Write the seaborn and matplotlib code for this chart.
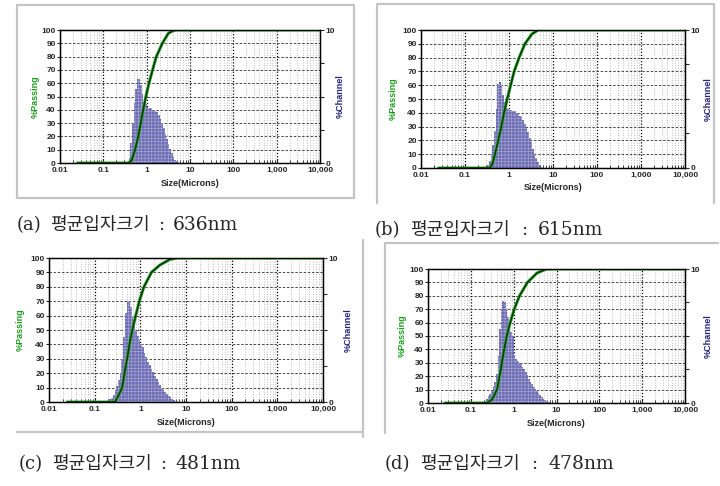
import numpy as np
import matplotlib
matplotlib.use("Agg")
import matplotlib.pyplot as plt
import seaborn as sns
from matplotlib.lines import Line2D
from matplotlib.ticker import FixedLocator, LogLocator, NullFormatter

sns.set_style("white")
plt.rcParams["font.family"] = ["Liberation Sans", "DejaVu Sans"]
plt.rcParams["hatch.linewidth"] = 0.2

# channel edges (microns), shared by all four measurements
edges = [0.1768, 0.1928, 0.2102, 0.2293, 0.25, 0.2726, 0.2973, 0.3242, 0.3536,
         0.3856, 0.4204, 0.4585, 0.5, 0.5453, 0.5946, 0.6484, 0.7071, 0.7711,
         0.8409, 0.917, 1.0, 1.0905, 1.1892, 1.2968, 1.4142, 1.5422, 1.6818,
         1.834, 2.0, 2.181, 2.3784, 2.5937, 2.8284, 3.0844, 3.3636, 3.668, 4.0,
         4.362, 4.7568, 5.1874, 5.6569, 6.1688, 6.7272, 7.336, 8.0, 8.7241]

# %Channel per channel
chan_a = [0, 0, 0, 0, 0, 0, 0, 0, 0, 0.4, 1.5, 3.0, 4.5, 5.6, 6.3, 6.3, 5.9,
          5.2, 4.6, 4.4, 4.2, 4.1, 4.1, 4.0, 4.0, 3.9, 3.8, 3.6, 3.3, 3.0, 2.6,
          2.2, 1.8, 1.4, 1.05, 0.75, 0.45, 0.25, 0.12, 0.04, 0, 0, 0, 0, 0]
chan_b = [0, 0, 0, 0, 0, 0, 0.05, 0.2, 0.5, 1.0, 1.7, 2.7, 4.3, 6.1, 6.25, 6.0,
          5.3, 4.8, 4.5, 4.3, 4.2, 4.2, 4.1, 4.1, 4.0, 3.9, 3.8, 3.7, 3.5, 3.2,
          2.9, 2.6, 2.2, 1.9, 1.4, 1.0, 0.7, 0.4, 0.2, 0.08, 0.02, 0, 0, 0, 0]
chan_c = [0.05, 0.1, 0.2, 0.3, 0.5, 0.8, 1.1, 1.5, 2.0, 3.0, 4.5, 6.2, 7.0, 7.0,
          6.6, 5.9, 5.4, 5.0, 4.6, 4.3, 4.0, 3.8, 3.4, 3.1, 2.8, 2.6, 2.3, 2.1,
          1.8, 1.6, 1.4, 1.2, 1.0, 0.8, 0.7, 0.55, 0.42, 0.32, 0.22, 0.14, 0.08,
          0.04, 0.02, 0, 0]
chan_d = [0, 0.05, 0.15, 0.3, 0.5, 0.7, 0.9, 1.2, 1.6, 2.2, 3.5, 5.5, 7.0, 7.6,
          7.5, 7.0, 6.4, 5.8, 5.3, 5.0, 3.6, 3.3, 3.1, 3.0, 2.9, 2.7, 2.5, 2.3,
          2.1, 1.8, 1.6, 1.4, 1.2, 1.05, 0.9, 0.75, 0.6, 0.45, 0.32, 0.22, 0.14,
          0.08, 0.04, 0.01, 0]

# cumulative %Passing
size_a = [0.025, 0.38, 0.45, 0.54, 0.64, 0.73, 0.83, 0.96, 1.13, 1.37, 1.67, 2.3, 3.16, 4.1, 5.0, 10000]
pass_a = [0, 0, 2, 10, 20, 30, 40, 50, 60, 70, 80, 90, 97.5, 99.5, 100, 100]
size_b = [0.025, 0.37, 0.42, 0.48, 0.57, 0.67, 0.77, 0.91, 1.09, 1.31, 1.7, 2.3, 3.3, 4.6, 10000]
pass_b = [0, 0, 3, 10, 20, 30, 40, 50, 60, 70, 80, 90, 97, 100, 100]
size_c = [0.025, 0.28, 0.35, 0.40, 0.45, 0.52, 0.60, 0.69, 0.82, 0.97, 1.2, 1.75, 2.65, 4.4, 6.7, 10000]
pass_c = [0, 0, 6, 10, 20, 31, 43, 52, 62, 71, 80, 90, 95, 99, 100, 100]
size_d = [0.025, 0.24, 0.31, 0.41, 0.47, 0.53, 0.60, 0.69, 0.83, 1.03, 1.37, 2.1, 3.5, 5.9, 10000]
pass_d = [0, 0, 2.5, 10, 20, 30, 40, 50, 60, 70, 80, 90, 97, 100, 100]

tags = ["(a)", "(b)", "(c)", "(d)"]
mean_sizes = ["636nm", "615nm", "481nm", "478nm"]
kor_label = "평균입자크기"
xtick_vals = [0.01, 0.1, 1, 10, 100, 1000, 10000]
xtick_labels = ["0.01", "0.1", "1", "10", "100", "1,000", "10,000"]

W, H = 720, 486
fig = plt.figure(figsize=(7.2, 4.86), dpi=100)
fig.patch.set_facecolor("white")

GREEN = "#1f9e1f"
NAVY = "#25257a"
BAR = "#6d6db5"
FRAME = "#c4c4c4"


def px_rect(l, t, r, b):
    return [l / W, 1 - b / H, (r - l) / W, (b - t) / H]


def frame_line(x1, y1, x2, y2):
    fig.add_artist(Line2D([x1 / W, x2 / W], [1 - y1 / H, 1 - y2 / H],
                          transform=fig.transFigure, color=FRAME, lw=1.6))


def draw_panel(box, chan, csize, cpass, loff, roff):
    l, t, r, b = box
    w, h = r - l, b - t
    ax = fig.add_axes(px_rect(*box))
    ax.set_xscale("log")
    ax.set_axisbelow(True)

    lo = np.array(edges[:-1])
    hi = np.array(edges[1:])
    ax.bar(lo, np.array(chan) * 10, width=hi - lo, align="edge", color=BAR,
           edgecolor="#e8e8f4", linewidth=0, hatch="+++++", zorder=2)

    sns.lineplot(x=csize, y=cpass, ax=ax, color="#33b033", linewidth=2.2,
                 estimator=None, sort=False, zorder=3)
    k = cpass.index(100) + 1
    sns.lineplot(x=csize[:k], y=cpass[:k], ax=ax, color="#0a3a0a",
                 linewidth=1.2, estimator=None, sort=False, zorder=4)

    ax.set_xlim(0.01, 10000)
    ax.set_ylim(0, 100)
    ax.xaxis.set_major_locator(FixedLocator(xtick_vals))
    ax.set_xticklabels(xtick_labels)
    ax.xaxis.set_minor_locator(LogLocator(base=10, subs=range(2, 10), numticks=100))
    ax.xaxis.set_minor_formatter(NullFormatter())
    ax.set_yticks(range(0, 101, 10))

    ax.grid(True, which="major", axis="x", color="black", linestyle=(0, (1, 1.5)), linewidth=0.9)
    ax.grid(True, which="minor", axis="x", color="#a8a8a8", linestyle=(0, (1, 2)), linewidth=0.6)
    ax.grid(True, which="major", axis="y", color="#303030", linestyle=(0, (3, 2)), linewidth=0.6)

    ax.tick_params(axis="x", which="major", direction="in", length=3, width=0.8,
                   labelsize=6, pad=3, bottom=True)
    ax.tick_params(axis="x", which="minor", direction="in", length=2, width=0.6, bottom=True)
    ax.tick_params(axis="y", direction="out", length=2, width=0.8, labelsize=6, pad=1, left=True)
    for lab in ax.get_xticklabels() + ax.get_yticklabels():
        lab.set_fontweight("bold")
    for sp in ax.spines.values():
        sp.set_color("black")
        sp.set_linewidth(0.9)

    ax.set_xlabel("Size(Microns)", fontsize=6.5, fontweight="bold", va="center")
    ax.xaxis.set_label_coords(0.5, -20 / h)
    ax.set_ylabel("%Passing", fontsize=6.5, fontweight="bold", color=GREEN, va="center")
    ax.yaxis.set_label_coords(-loff / w, 0.5)

    ax2 = ax.twinx()
    ax2.set_ylim(0, 10)
    ax2.set_yticks([0, 2.5, 5, 7.5, 10])
    ax2.set_yticklabels(["0", "", "", "", "10"])
    ax2.tick_params(axis="y", direction="out", length=3, width=0.8, labelsize=6, pad=1, right=True)
    for lab in ax2.get_yticklabels():
        lab.set_fontweight("bold")
    ax2.grid(False)
    for sp in ax2.spines.values():
        sp.set_color("black")
        sp.set_linewidth(0.9)
    ax2.set_ylabel("%Channel", fontsize=6.5, fontweight="bold", color=NAVY, va="center")
    ax2.yaxis.set_label_coords(1 + roff / w, 0.5)
    return ax


# frames
frame_line(17, 5, 354, 5)
frame_line(17, 5, 17, 198)
frame_line(354, 5, 354, 198)
frame_line(17, 198, 354, 198)
frame_line(377, 4, 714, 4)
frame_line(377, 4, 377, 203)
frame_line(714, 4, 714, 203)
frame_line(17, 432, 363, 432)
frame_line(363, 240, 363, 437)
frame_line(385, 243, 718, 243)
frame_line(385, 243, 385, 433)

boxes = [(60, 30, 320, 163), (421, 30, 685, 168), (49, 258, 323, 402), (428, 269, 685, 403)]
chans = [chan_a, chan_b, chan_c, chan_d]
sizes = [size_a, size_b, size_c, size_d]
passes = [pass_a, pass_b, pass_c, pass_d]
loffs = [25, 28, 29, 26]
roffs = [20, 23, 25, 23]
for i in range(4):
    draw_panel(boxes[i], chans[i], sizes[i], passes[i], loffs[i], roffs[i])

# captions: tag, Korean label, colon, value
cap_pos = [(17, 50, 158, 173, 225), (375, 410, 521, 538, 230),
           (19, 52, 160, 175, 464), (385, 420, 531, 548, 464)]
for i, (xt, xk, xc, xv, yc) in enumerate(cap_pos):
    y = 1 - yc / H
    fig.text(xt / W, y, tags[i], fontsize=13, family="DejaVu Serif", va="center")
    fig.text(xk / W, y, kor_label, fontsize=13, family="Noto Sans CJK KR", va="center")
    fig.text(xc / W, y, ":", fontsize=13, family="DejaVu Serif", va="center")
    fig.text(xv / W, y, mean_sizes[i], fontsize=13.5, family="DejaVu Serif", va="center")

fig.savefig("out.png", dpi=100, facecolor="white")
